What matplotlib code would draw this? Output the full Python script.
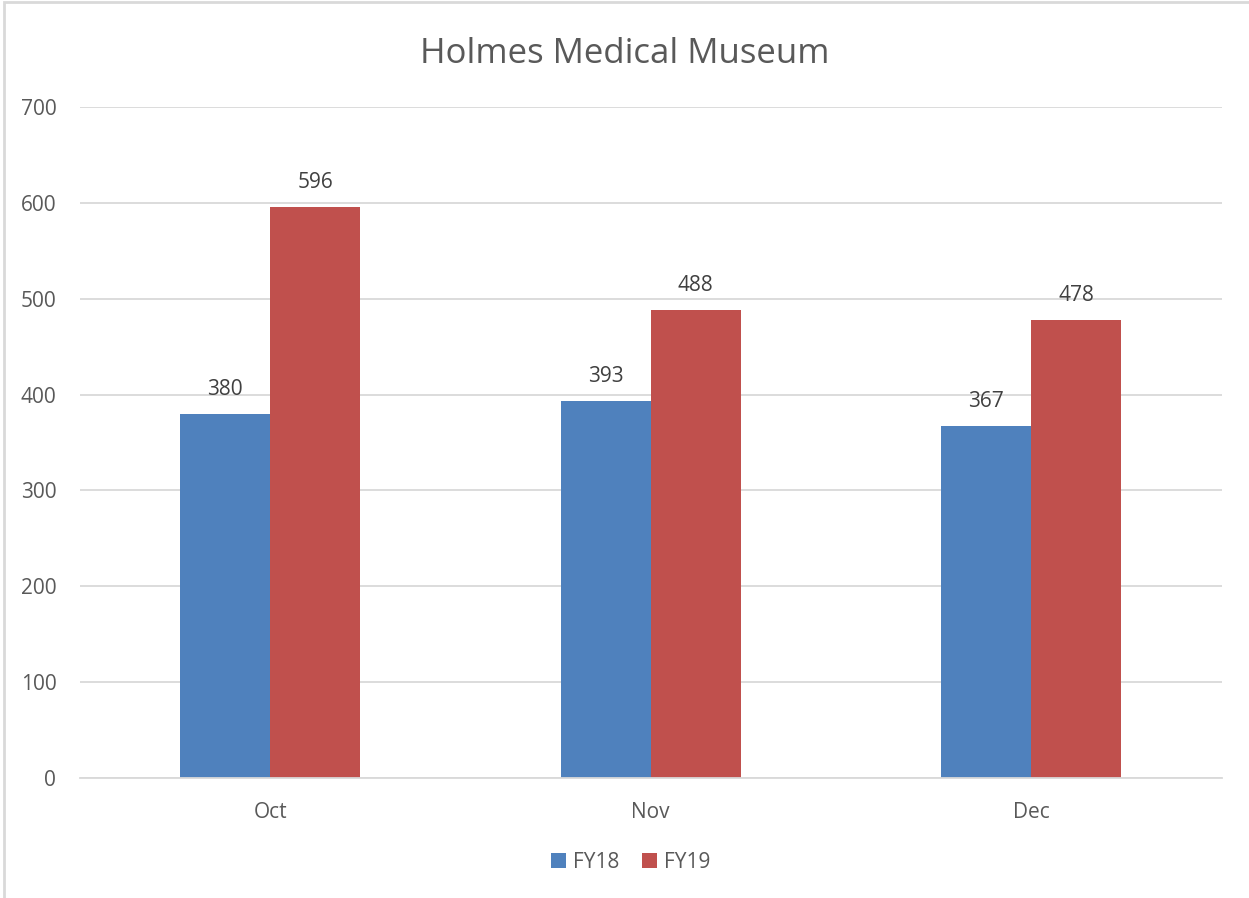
import matplotlib.pyplot as plt
import numpy as np
from matplotlib.patches import Rectangle

months = ["Oct", "Nov", "Dec"]
fy18 = [380, 393, 367]
fy19 = [596, 488, 478]
yticks = [0, 100, 200, 300, 400, 500, 600, 700]

plt.rcParams['font.family'] = ['Open Sans', 'DejaVu Sans']
txt = '#595959'

fig = plt.figure(figsize=(12.49, 8.98), dpi=100)
ax = fig.add_axes([0.064, 0.1336, 0.914, 0.7472])

x = np.arange(len(months))
w = 0.237
b1 = ax.bar(x - w / 2, fy18, w, color='#4F81BD', label='FY18')
b2 = ax.bar(x + w / 2, fy19, w, color='#C0504D', label='FY19')
ax.bar_label(b1, padding=10, fontsize=15, color='#404040')
ax.bar_label(b2, padding=10, fontsize=15, color='#404040')

ax.set_xlim(-0.5, 2.5)
ax.set_ylim(0, 700)
ax.set_yticks(yticks)
ax.set_xticks(x)
ax.set_xticklabels(months)
ax.tick_params(axis='both', length=0, labelsize=15, labelcolor=txt)
ax.tick_params(axis='x', pad=17)
ax.tick_params(axis='y', pad=17)
ax.grid(axis='y', color='#D9D9D9', linewidth=1.3)
ax.set_axisbelow(True)
for s in ['top', 'right', 'left']:
    ax.spines[s].set_visible(False)
ax.spines['bottom'].set_color('#D9D9D9')
ax.spines['bottom'].set_linewidth(1.3)

fig.text(0.5, 0.94, "Holmes Medical Museum", ha='center', va='center',
         fontsize=25, color=txt)

fig.legend(loc='center', bbox_to_anchor=(0.505, 0.04), ncol=2, frameon=False,
           fontsize=15, labelcolor=txt, handlelength=0.7, handleheight=0.7,
           handletextpad=0.35, columnspacing=1.1)

fig.patches.append(Rectangle((0.003, -0.01), 1.0, 1.008, transform=fig.transFigure,
                             fill=False, edgecolor='#D9D9D9', linewidth=2))

fig.savefig("out.png", dpi=100)
